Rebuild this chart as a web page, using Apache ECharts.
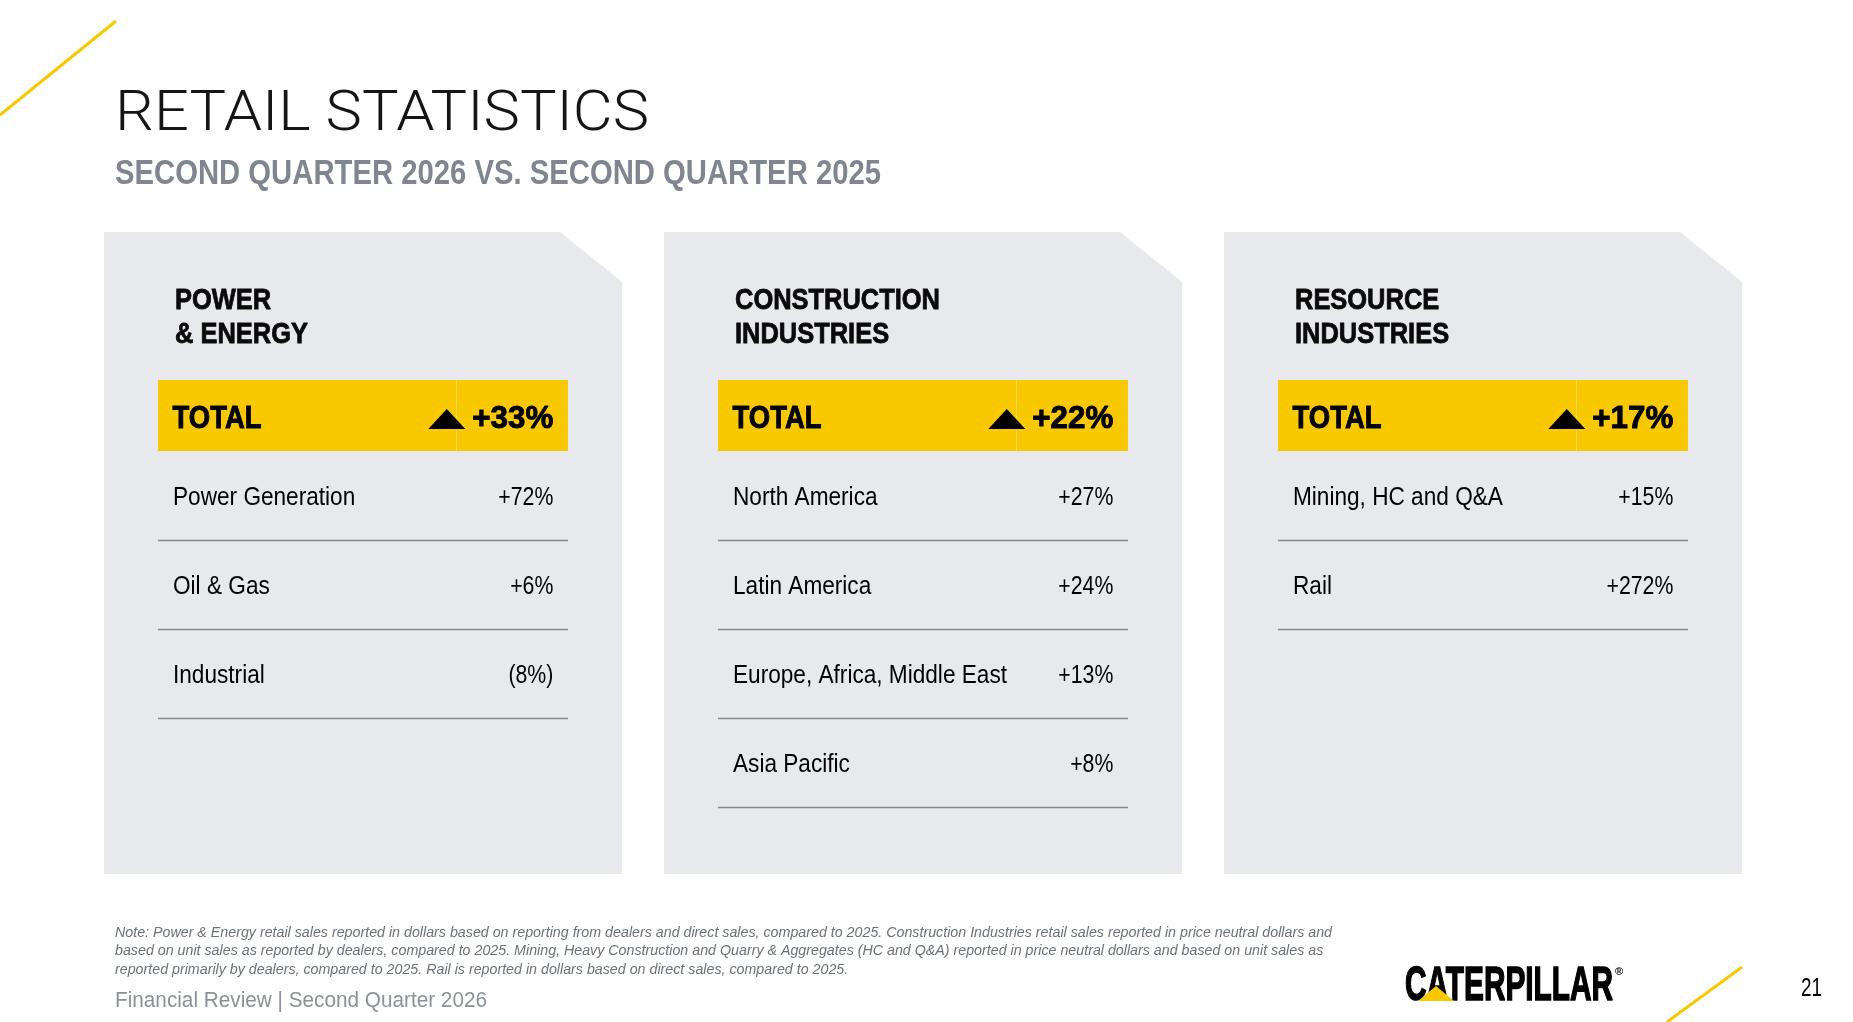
<!DOCTYPE html>
<html>
<head>
<meta charset="utf-8">
<title>Retail Statistics</title>
<script src="https://cdn.jsdelivr.net/npm/echarts@6.0.0/dist/echarts.min.js"></script>
<style>
  html, body { margin: 0; padding: 0; background: #fff; }
  #main { width: 1853px; height: 1022px; }
</style>
</head>
<body>
<div id="main"></div>
<script>
// 数据
var segmentNames = ['POWER\n& ENERGY', 'CONSTRUCTION\nINDUSTRIES', 'RESOURCE\nINDUSTRIES'];
var segmentTotals = [33, 22, 17];

var powerRows = ['Power Generation', 'Oil & Gas', 'Industrial'];
var powerGrowth = [72, 6, -8];

var constructionRows = ['North America', 'Latin America', 'Europe, Africa, Middle East', 'Asia Pacific'];
var constructionGrowth = [27, 24, 13, 8];

var resourceRows = ['Mining, HC and Q&A', 'Rail'];
var resourceGrowth = [15, 272];

var titleText = 'RETAIL STATISTICS';
var subtitleText = 'SECOND QUARTER 2026 VS. SECOND QUARTER 2025';
var footnoteLines = [
  'Note: Power & Energy retail sales reported in dollars based on reporting from dealers and direct sales, compared to 2025. Construction Industries retail sales reported in price neutral dollars and',
  'based on unit sales as reported by dealers, compared to 2025. Mining, Heavy Construction and Quarry & Aggregates (HC and Q&A) reported in price neutral dollars and based on unit sales as',
  'reported primarily by dealers, compared to 2025. Rail is reported in dollars based on direct sales, compared to 2025.'
];
var footerText = 'Financial Review | Second Quarter 2026';
var pageNumber = '21';

// 版式
var FAM = "'Liberation Sans Narrow', 'Liberation Sans', Arial, sans-serif";
var TITLE_FAM = "Roboto, 'Liberation Sans', Arial, sans-serif";
var YELLOW = '#f8c800';
var PANEL_X = [104, 664, 1224];
var PANEL_TOP = 232, PANEL_BOTTOM = 874, PANEL_W = 518;
var BAR_DX = 54, BAR_W = 410, BAR_TOP = 380, BAR_H = 71, ROW_H = 89;

var ctx = document.createElement('canvas').getContext('2d');
function measure(str, size, weight, family, italic) {
  ctx.font = (italic ? 'italic ' : '') + weight + ' ' + size + 'px ' + family;
  return ctx.measureText(str).width;
}
// 按参考宽度求横向压缩比
function fit(ref, target, size, weight, family, italic) {
  return target / measure(ref, size, weight, family, italic);
}

var kTitle = fit(titleText, 534, 56, 300, TITLE_FAM);
var kSub = fit(subtitleText, 766, 35, 'bold', FAM);
var kHead = fit('CONSTRUCTION', 205, 30, 'bold', FAM);
var kTotal = fit('TOTAL', 89, 32, 'bold', FAM);
var kTotalVal = fit('+33%', 81, 32, 'bold', FAM);
var kRow = fit('Europe, Africa, Middle East', 274, 26, 'normal', FAM);
var kVal = fit('+72%', 55, 26, 'normal', FAM);
var kNote = fit(footnoteLines[0], 1217, 15, 'normal', FAM, true);
var kFooter = fit(footerText, 372, 22, 'normal', FAM);
var kLogo = fit('CATERPILLAR', 208, 49, 'bold', FAM);
var kPage = fit(pageNumber, 21, 26, 'normal', FAM);

function fmt(v) {
  return v < 0 ? '(' + Math.abs(v) + '%)' : '+' + v + '%';
}

function txt(x, y, text, size, weight, fill, k, align, extra) {
  var el = {
    type: 'text', x: x, y: y, scaleX: k, silent: true, z: 5,
    style: {
      text: text, fill: fill, fontSize: size, fontWeight: weight, fontFamily: FAM,
      align: align || 'left', textAlign: align || 'left',
      verticalAlign: 'middle', textVerticalAlign: 'middle'
    }
  };
  if (extra) {
    for (var p in extra) el.style[p] = extra[p];
  }
  return el;
}

var panels = [
  { rows: powerRows, growth: powerGrowth },
  { rows: constructionRows, growth: constructionGrowth },
  { rows: resourceRows, growth: resourceGrowth }
];

var graphics = [];

// 装饰斜线
graphics.push({ type: 'line', z: 1, silent: true, shape: { x1: 0, y1: 115, x2: 116, y2: 21 }, style: { stroke: YELLOW, lineWidth: 3 } });
graphics.push({ type: 'line', z: 1, silent: true, shape: { x1: 1667, y1: 1022, x2: 1742, y2: 967 }, style: { stroke: YELLOW, lineWidth: 3 } });

// 标题
graphics.push(txt(115, 116, titleText, 56, 300, '#151515', kTitle, 'left', { fontFamily: TITLE_FAM }));
graphics.push(txt(115, 174.5, subtitleText, 35, 'bold', '#7f8690', kSub));

var heavy = { stroke: '#000', lineWidth: 0.9 };

panels.forEach(function (p, i) {
  var L = PANEL_X[i];
  var barL = L + BAR_DX;
  graphics.push({
    type: 'polygon', z: 0, silent: true,
    shape: { points: [[L, PANEL_TOP], [L + 456, PANEL_TOP], [L + PANEL_W, PANEL_TOP + 50], [L + PANEL_W, PANEL_BOTTOM], [L, PANEL_BOTTOM]] },
    style: { fill: '#e8e9ec' }
  });
  graphics.push({
    type: 'text', x: L + 71, y: 284, scaleX: kHead, silent: true, z: 5,
    style: {
      text: segmentNames[i], fill: '#0a0a0a', stroke: '#0a0a0a', lineWidth: 0.8,
      fontSize: 30, fontWeight: 'bold', fontFamily: FAM,
      lineHeight: 34, align: 'left', textAlign: 'left', verticalAlign: 'top', textVerticalAlign: 'top'
    }
  });
  graphics.push({ type: 'rect', z: 1, silent: true, shape: { x: barL, y: BAR_TOP, width: BAR_W, height: BAR_H }, style: { fill: YELLOW } });
  graphics.push({ type: 'line', z: 2, silent: true, shape: { x1: barL + 298.5, y1: BAR_TOP, x2: barL + 298.5, y2: BAR_TOP + BAR_H }, style: { stroke: 'rgba(255,255,255,0.3)', lineWidth: 1 } });
  var cy = BAR_TOP + BAR_H / 2 + 3.5;
  graphics.push(txt(barL + 14.5, cy, 'TOTAL', 32, 'bold', '#000', kTotal, 'left', heavy));
  var valRight = barL + BAR_W - 14.7;
  var valText = fmt(segmentTotals[i]);
  graphics.push(txt(valRight, cy, valText, 32, 'bold', '#000', kTotalVal, 'right', heavy));
  var vw = measure(valText, 32, 'bold', FAM) * kTotalVal;
  var tr = valRight - vw - 7;
  graphics.push({
    type: 'polygon', z: 5, silent: true,
    shape: { points: [[tr - 37, 429], [tr - 18.5, 409], [tr, 429]] },
    style: { fill: '#000' }
  });
});

// 注释与页脚
footnoteLines.forEach(function (line, i) {
  graphics.push(txt(115, 932.5 + i * 18.5, line, 15, 'normal', '#6b717b', kNote, 'left', { fontStyle: 'italic' }));
});
graphics.push(txt(115, 1000.5, footerText, 22, 'normal', '#8b919a', kFooter));
graphics.push(txt(1801, 989, pageNumber, 26, 'normal', '#000', kPage));

// 标志
var logoX = 1405;
graphics.push(txt(logoX, 986.5, 'CATERPILLAR', 49, 'bold', '#000', kLogo, 'left', { fontWeight: 900, stroke: '#000', lineWidth: 1.6 }));
graphics.push({
  type: 'polygon', z: 6, silent: true,
  shape: { points: [[1418, 1001], [1436, 986], [1454, 1001]] },
  style: { fill: YELLOW }
});
graphics.push(txt(1615, 972, '®', 11, 'bold', '#000', 1));

// 每个面板一个网格，行由类目轴定位
var grids = [], xAxes = [], yAxes = [], series = [];
panels.forEach(function (p, i) {
  grids.push({ left: PANEL_X[i] + BAR_DX, top: BAR_TOP + BAR_H, width: BAR_W, height: p.rows.length * ROW_H });
  xAxes.push({ gridIndex: i, type: 'value', min: 0, max: 1, show: false });
  yAxes.push({ gridIndex: i, type: 'category', inverse: true, data: p.rows, show: false });
  series.push({
    type: 'custom',
    xAxisIndex: i,
    yAxisIndex: i,
    z: 10,
    silent: true,
    data: p.rows.map(function (name, j) { return [0, name, p.growth[j]]; }),
    encode: { x: 0, y: 1 },
    renderItem: function (params, api) {
      var cs = params.coordSys;
      var pt = api.coord([0, api.value(1)]);
      var band = api.size([0, 1])[1];
      var yMid = pt[1];
      var lineY = Math.round(yMid + band / 2) + 0.5;
      return {
        type: 'group',
        children: [
          {
            type: 'text', x: cs.x + 15, y: yMid + 2.5, scaleX: kRow,
            style: { text: p.rows[params.dataIndex], fill: '#000', fontSize: 26, fontFamily: FAM, align: 'left', textAlign: 'left', verticalAlign: 'middle', textVerticalAlign: 'middle' }
          },
          {
            type: 'text', x: cs.x + cs.width - 14.7, y: yMid + 2.5, scaleX: kVal,
            style: { text: fmt(api.value(2)), fill: '#000', fontSize: 26, fontFamily: FAM, align: 'right', textAlign: 'right', verticalAlign: 'middle', textVerticalAlign: 'middle' }
          },
          {
            type: 'line',
            shape: { x1: cs.x, y1: lineY, x2: cs.x + cs.width, y2: lineY },
            style: { stroke: '#86888d', lineWidth: 1.5 }
          }
        ]
      };
    }
  });
});

var myChart = echarts.init(document.getElementById('main'));
var option = {
  animation: false,
  backgroundColor: '#ffffff',
  graphic: { elements: graphics },
  grid: grids,
  xAxis: xAxes,
  yAxis: yAxes,
  series: series
};
myChart.setOption(option);
</script>
</body>
</html>
